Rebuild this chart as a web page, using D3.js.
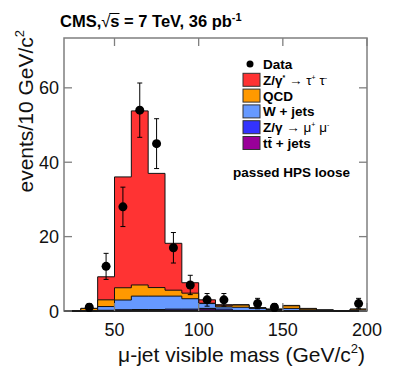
<!DOCTYPE html>
<html>
<head>
<meta charset="utf-8">
<script src="https://cdn.jsdelivr.net/npm/d3@7"></script>
<style>
  body { margin: 0; background: #fff; }
  svg { display: block; font-family: "Liberation Sans", Arial, sans-serif; }
</style>
</head>
<body>
<div id="chart"></div>
<script>
// bins of 10 GeV/c2, low edges
const binLow = [20, 30, 40, 50, 60, 70, 80, 90, 100, 110, 120, 130, 140, 150, 160, 170, 180, 190];

// MC contributions, bottom of the stack first
const ttJets = [0, 0, 0, 0.05, 0.1, 0.1, 0.2, 0.2, 0.5, 0.1, 0, 0, 0, 0, 0, 0, 0, 0];
const zMuMu = [0, 0, 0.2, 0.3, 0.3, 0.3, 0.3, 0.3, 0.2, 0.4, 0.1, 0.1, 0.1, 0.1, 0, 0, 0, 0];
const wJets = [0, 0.1, 1.0, 2.6, 3.6, 3.6, 3.5, 2.8, 1.3, 0.6, 0.9, 0.6, 0.3, 0.6, 0.3, 0.1, 0, 0.2];
const qcd = [0, 0.6, 1.8, 3.3, 3.0, 2.3, 1.6, 1.5, 0.1, 0.3, 0.6, 0.1, 0.1, 0.7, 0.3, 0.2, 0.05, 0.3];
const zTauTau = [0, 0, 6.2, 29.8, 46.8, 30.7, 12.6, 2.8, 0.9, 0.3, 0.1, 0.1, 0, 0.1, 0.1, 0, 0, 0];

// observed data
const dataMass = [35, 45, 55, 65, 75, 85, 95, 105, 115, 135, 145, 195];
const dataCount = [1, 12, 28, 54, 45, 17, 7, 3, 3, 2, 1, 2];
const dataErr = [1, 3.5, 5.3, 7.3, 6.7, 4.1, 2.6, 1.7, 1.7, 1.4, 1, 1.4];

const xTicks = [50, 100, 150, 200];
const yTicks = [0, 20, 40, 60];

const W = 399, H = 375;
const BIN = 10;
const x = d3.scaleLinear().domain([20, 200]).range([64, 367]);
const y = d3.scaleLinear().domain([0, 73.4]).range([311, 38]);

const svg = d3.select('#chart').append('svg')
  .attr('width', W).attr('height', H);

const layers = [
  { name: 'ttbar', values: ttJets, color: '#990099' },
  { name: 'zmumu', values: zMuMu, color: '#3333ff' },
  { name: 'wjets', values: wJets, color: '#6699ff' },
  { name: 'qcd', values: qcd, color: '#ff9900' },
  { name: 'ztautau', values: zTauTau, color: '#ff3333' },
];

// cumulative stack
let running = binLow.map(() => 0);
layers.forEach((l) => {
  running = running.map((v, i) => v + l.values[i]);
  l.cum = running.slice();
});

function stepPoints(cum) {
  const pts = [];
  binLow.forEach((b, i) => {
    pts.push([b, cum[i]]);
    pts.push([b + BIN, cum[i]]);
  });
  return pts;
}

const area = d3.area()
  .x((d) => x(d[0]))
  .y0(y(0))
  .y1((d) => y(d[1]));
const line = d3.line()
  .x((d) => x(d[0]))
  .y((d) => y(d[1]));

const hist = svg.append('g').attr('class', 'stack');
// draw the full stack first, smaller sums over it
layers.slice().reverse().forEach((l) => {
  const pts = stepPoints(l.cum);
  hist.append('path')
    .attr('d', area(pts))
    .attr('fill', l.color)
    .attr('stroke', 'none');
  const outline = [[binLow[0], 0], ...pts, [binLow[binLow.length - 1] + BIN, 0]];
  hist.append('path')
    .attr('d', line(outline))
    .attr('fill', 'none')
    .attr('stroke', '#111')
    .attr('stroke-width', 1);
});

// ── Frame and ticks ─────────────────────────────────────────
const frame = svg.append('g').attr('class', 'frame');
const FRAME = '#7f7f7f';
frame.append('rect')
  .attr('x', x(20)).attr('y', y(73.4))
  .attr('width', x(200) - x(20)).attr('height', y(0) - y(73.4))
  .attr('fill', 'none').attr('stroke', FRAME).attr('stroke-width', 1.5);
frame.append('line')
  .attr('x1', x(20)).attr('x2', x(200))
  .attr('y1', y(0)).attr('y2', y(0))
  .attr('stroke', '#000').attr('stroke-width', 1.5);

const TICK = 8;
yTicks.forEach((t) => {
  frame.append('line')
    .attr('x1', x(20)).attr('x2', x(20) + TICK)
    .attr('y1', y(t)).attr('y2', y(t))
    .attr('stroke', FRAME).attr('stroke-width', 1.3);
  frame.append('line')
    .attr('x1', x(200)).attr('x2', x(200) - TICK)
    .attr('y1', y(t)).attr('y2', y(t))
    .attr('stroke', FRAME).attr('stroke-width', 1.3);
  svg.append('text')
    .attr('x', 59).attr('y', y(t) + 6.5)
    .attr('text-anchor', 'end')
    .attr('font-size', 18)
    .attr('fill', '#111')
    .text(t);
});
xTicks.forEach((t) => {
  frame.append('line')
    .attr('x1', x(t)).attr('x2', x(t))
    .attr('y1', y(73.4)).attr('y2', y(73.4) + TICK)
    .attr('stroke', FRAME).attr('stroke-width', 1.3);
  frame.append('line')
    .attr('x1', x(t)).attr('x2', x(t))
    .attr('y1', y(0)).attr('y2', y(0) - TICK)
    .attr('stroke', FRAME).attr('stroke-width', 1.3);
  svg.append('text')
    .attr('x', x(t)).attr('y', 336)
    .attr('text-anchor', 'middle')
    .attr('font-size', 18)
    .attr('fill', '#111')
    .text(t);
});

// ── Data points ────────────────────────────────────────────
const pts = svg.append('g').attr('class', 'data');
dataMass.forEach((m, i) => {
  const cx = x(m), cy = y(dataCount[i]);
  const top = y(dataCount[i] + dataErr[i]);
  const bot = y(Math.max(0, dataCount[i] - dataErr[i]));
  pts.append('line')
    .attr('x1', cx).attr('x2', cx).attr('y1', top).attr('y2', bot)
    .attr('stroke', '#000').attr('stroke-width', 1);
  [top, bot].forEach((yy) => {
    pts.append('line')
      .attr('x1', cx - 2.5).attr('x2', cx + 2.5).attr('y1', yy).attr('y2', yy)
      .attr('stroke', '#000').attr('stroke-width', 1);
  });
  pts.append('circle')
    .attr('cx', cx).attr('cy', cy).attr('r', 4.5)
    .attr('fill', '#000');
});

// ── Title ─────────────────────────────────────────────────
const title = svg.append('text')
  .attr('x', 60).attr('y', 27)
  .attr('font-size', 16.5).attr('font-weight', 'bold')
  .attr('fill', '#000');
title.append('tspan').text('CMS,');
title.append('tspan').attr('font-weight', 'normal').text('\u221A');
title.append('tspan').attr('class', 'sq').text('s');
title.append('tspan').text(' = 7 TeV, 36 pb');
title.append('tspan').attr('font-size', 11).attr('dy', -6).text('-1');
{
  const n = title.node();
  const idx = 'CMS,\u221A'.length;
  const ex = n.getExtentOfChar(idx);
  const rx = n.getExtentOfChar(idx - 1);
  svg.append('line')
    .attr('x1', rx.x + rx.width - 1).attr('x2', ex.x + ex.width)
    .attr('y1', rx.y + 1.5).attr('y2', rx.y + 1.5)
    .attr('stroke', '#000').attr('stroke-width', 1);
}

// ── Axis titles ──────────────────────────────────────────
const xt = svg.append('text')
  .attr('x', 365).attr('y', 362)
  .attr('text-anchor', 'end')
  .attr('font-size', 21)
  .attr('fill', '#111');
xt.append('tspan').text('\u03BC-jet visible mass (GeV/c');
xt.append('tspan').attr('font-size', 13).attr('dy', -9).text('2');
xt.append('tspan').attr('dy', 9).text(')');

const yt = svg.append('text')
  .attr('transform', 'translate(33,30) rotate(-90)')
  .attr('text-anchor', 'end')
  .attr('font-size', 21)
  .attr('fill', '#111');
yt.append('tspan').text('events/10 GeV/c');
yt.append('tspan').attr('font-size', 13).attr('dy', -9).text('2');

// ── Legend ───────────────────────────────────────────────
const legendRows = [
  { kind: 'data' },
  { kind: 'box', color: '#ff3333' },
  { kind: 'box', color: '#ff9900' },
  { kind: 'box', color: '#6699ff' },
  { kind: 'box', color: '#3333ff' },
  { kind: 'box', color: '#990099' },
];
const LX = 243, LY0 = 64, LDY = 15.8;
const leg = svg.append('g').attr('class', 'legend');
legendRows.forEach((r, i) => {
  const cy = LY0 + i * LDY;
  if (r.kind === 'data') {
    leg.append('circle').attr('cx', LX + 7).attr('cy', cy).attr('r', 3.5).attr('fill', '#000');
  } else {
    leg.append('rect')
      .attr('x', LX).attr('y', cy - 6.5).attr('width', 17).attr('height', 13)
      .attr('fill', r.color).attr('stroke', '#333').attr('stroke-width', 1);
  }
});
function legText(i) {
  return leg.append('text')
    .attr('x', 263).attr('y', LY0 + i * LDY + 5)
    .attr('font-size', 13.5).attr('font-weight', 'bold').attr('fill', '#000');
}
legText(0).text('Data');
{
  const t = legText(1);
  t.append('tspan').text('Z/\u03B3');
  t.append('tspan').attr('font-size', 7).attr('dy', -5).text('*');
  t.append('tspan').attr('dy', 5).attr('font-weight', 'normal').text(' \u2192 \u03C4');
  t.append('tspan').attr('font-size', 7).attr('dy', -5).attr('font-weight', 'normal').text('+');
  t.append('tspan').attr('dy', 5).attr('font-weight', 'normal').text(' \u03C4');
  t.append('tspan').attr('font-size', 7).attr('dy', -5).attr('font-weight', 'normal').text('-');
}
legText(2).text('QCD');
legText(3).text('W + jets');
{
  const t = legText(4);
  t.append('tspan').text('Z/\u03B3');
  t.append('tspan').attr('dy', 0).attr('font-weight', 'normal').text('  \u2192 \u03BC');
  t.append('tspan').attr('font-size', 7).attr('dy', -5).attr('font-weight', 'normal').text('+');
  t.append('tspan').attr('dy', 5).attr('font-weight', 'normal').text(' \u03BC');
  t.append('tspan').attr('font-size', 7).attr('dy', -5).attr('font-weight', 'normal').text('-');
}
{
  const t = legText(5).text('tt + jets');
  const n = t.node();
  const e = n.getExtentOfChar(1);
  leg.append('line')
    .attr('x1', e.x + 0.5).attr('x2', e.x + e.width - 0.5)
    .attr('y1', e.y + 1.5).attr('y2', e.y + 1.5)
    .attr('stroke', '#000').attr('stroke-width', 1);
}

svg.append('text')
  .attr('x', 233).attr('y', 177)
  .attr('font-size', 13.5).attr('font-weight', 'bold').attr('fill', '#000')
  .text('passed HPS loose');
</script>
</body>
</html>
